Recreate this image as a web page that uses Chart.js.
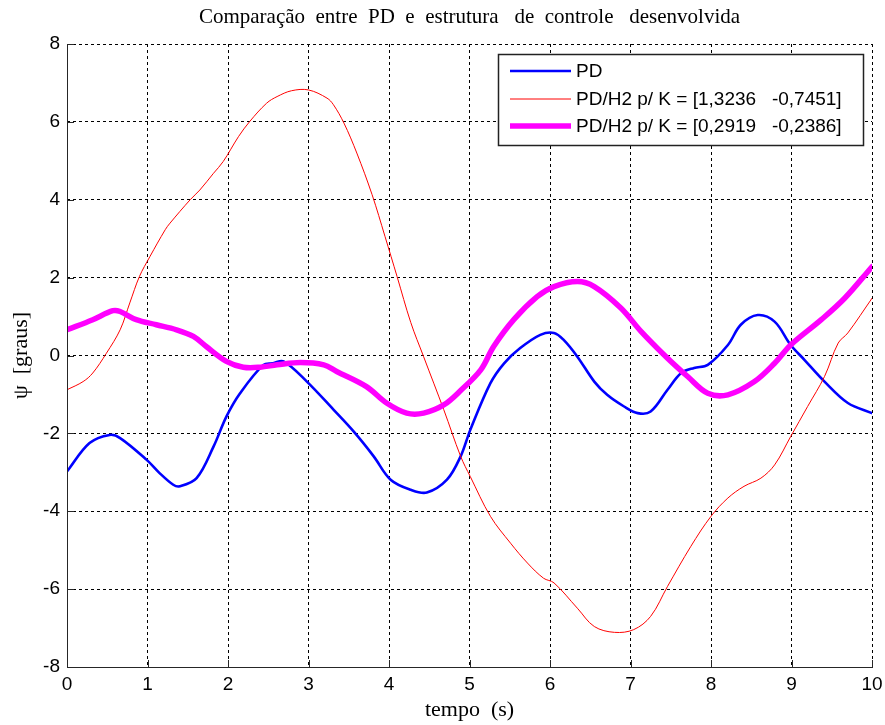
<!DOCTYPE html>
<html>
<head>
<meta charset="utf-8">
<script src="https://cdn.jsdelivr.net/npm/chart.js@4/dist/chart.umd.min.js"></script>
<style>
  html, body { margin: 0; padding: 0; background: #ffffff; }
  #wrap { width: 885px; height: 725px; }
</style>
</head>
<body>
<div id="wrap"><canvas id="c" width="885" height="725"></canvas></div>
<script>
// Heading response psi (graus) over time for the three controllers
const titleText = 'Comparação  entre  PD  e  estrutura   de  controle   desenvolvida';
const xLabel = 'tempo  (s)';
const yLabel = 'ψ  [graus]';
const seriesNames = ['PD', 'PD/H2 p/ K = [1,3236   -0,7451]', 'PD/H2 p/ K = [0,2919   -0,2386]'];

const tPD = [0, 0.28, 0.53, 0.66, 0.99, 1.15, 1.32, 1.40, 1.61, 1.82, 1.98, 2.15, 2.44, 2.56, 2.69, 2.98, 3.31, 3.56, 3.81, 4.02, 4.27, 4.47, 4.72, 4.89, 5.01, 5.26, 5.43, 5.63, 5.88, 6.05, 6.17, 6.34, 6.55, 6.71, 6.92, 7.09, 7.25, 7.46, 7.63, 7.79, 7.96, 8.21, 8.37, 8.58, 8.79, 8.99, 9.16, 9.41, 9.70, 10];
const psiPD = [-2.98, -2.25, -2.04, -2.12, -2.68, -3.02, -3.32, -3.36, -3.15, -2.34, -1.57, -0.97, -0.24, -0.20, -0.15, -0.67, -1.39, -1.95, -2.59, -3.19, -3.45, -3.52, -3.19, -2.59, -1.91, -0.71, -0.20, 0.19, 0.53, 0.58, 0.40, -0.03, -0.67, -1.01, -1.31, -1.48, -1.44, -0.88, -0.45, -0.32, -0.24, 0.27, 0.79, 1.04, 0.87, 0.27, -0.11, -0.67, -1.22, -1.48];

const tK1 = [0, 0.20, 0.32, 0.49, 0.66, 0.78, 0.90, 1.03, 1.22, 1.28, 1.53, 1.65, 1.82, 1.94, 2.13, 2.27, 2.48, 2.61, 2.79, 3.00, 3.23, 3.31, 3.44, 3.60, 3.79, 3.95, 4.10, 4.27, 4.43, 4.68, 4.89, 5.01, 5.26, 5.51, 5.72, 5.92, 6.05, 6.34, 6.55, 6.80, 7.04, 7.25, 7.46, 7.75, 8.00, 8.21, 8.41, 8.62, 8.79, 8.99, 9.20, 9.41, 9.58, 9.70, 10];
const psiK1 = [-0.88, -0.67, -0.45, 0.06, 0.66, 1.35, 2.03, 2.54, 3.23, 3.40, 4.00, 4.25, 4.68, 4.98, 5.62, 6.01, 6.48, 6.65, 6.80, 6.82, 6.61, 6.44, 5.97, 5.20, 4.13, 3.06, 2.03, 0.85, -0.03, -1.39, -2.59, -3.11, -4.13, -4.82, -5.33, -5.72, -5.84, -6.49, -6.96, -7.11, -7.04, -6.70, -5.93, -4.90, -4.13, -3.66, -3.36, -3.15, -2.81, -2.08, -1.31, -0.54, 0.32, 0.58, 1.47];

const tK2 = [0, 0.32, 0.57, 0.66, 0.86, 1.11, 1.36, 1.57, 1.73, 1.98, 2.19, 2.40, 2.61, 2.90, 3.19, 3.35, 3.72, 3.97, 4.22, 4.43, 4.68, 4.89, 5.14, 5.30, 5.55, 5.84, 6.05, 6.34, 6.55, 6.88, 7.13, 7.46, 7.71, 7.96, 8.21, 8.54, 8.79, 8.99, 9.37, 9.66, 10];
const psiK2 = [0.66, 0.92, 1.15, 1.13, 0.92, 0.79, 0.66, 0.49, 0.23, -0.15, -0.30, -0.30, -0.24, -0.18, -0.24, -0.41, -0.80, -1.22, -1.48, -1.48, -1.27, -0.90, -0.37, 0.23, 0.92, 1.51, 1.77, 1.90, 1.77, 1.22, 0.62, -0.07, -0.54, -0.97, -1.01, -0.67, -0.20, 0.27, 0.92, 1.47, 2.28];

const xTicks = [0, 1, 2, 3, 4, 5, 6, 7, 8, 9, 10];
const yTicks = [-8, -6, -4, -2, 0, 2, 4, 6, 8];

const pts = (t, v) => t.map((x, i) => ({ x: x, y: v[i] }));

const tickFont = { family: "'Liberation Sans', Arial, sans-serif", size: 19 };
const serif = "'Liberation Serif', 'Times New Roman', serif";

// solid axis lines on left/bottom with inward tick marks, plus the boxed legend
const axesAndLegend = {
  id: 'axesAndLegend',
  afterDatasetsDraw(chart) {
    const { ctx, chartArea: a, scales } = chart;
    ctx.save();
    ctx.strokeStyle = '#262626';
    ctx.lineWidth = 1;
    ctx.setLineDash([]);
    ctx.beginPath();
    ctx.moveTo(Math.round(a.left) + 0.5, Math.round(a.top));
    ctx.lineTo(Math.round(a.left) + 0.5, Math.round(a.bottom) + 0.5);
    ctx.lineTo(Math.round(a.right) + 1, Math.round(a.bottom) + 0.5);
    ctx.stroke();
    const tl = 7;
    scales.x.ticks.forEach(tk => {
      const px = Math.round(scales.x.getPixelForValue(tk.value)) + 0.5;
      ctx.beginPath();
      ctx.moveTo(px, Math.round(a.bottom));
      ctx.lineTo(px, Math.round(a.bottom) - tl);
      ctx.stroke();
    });
    scales.y.ticks.forEach(tk => {
      const py = Math.round(scales.y.getPixelForValue(tk.value)) + 0.5;
      ctx.beginPath();
      ctx.moveTo(Math.round(a.left), py);
      ctx.lineTo(Math.round(a.left) + tl, py);
      ctx.stroke();
    });

    // legend box
    const bx = 498.5, by = 54.5, bw = 365, bh = 91;
    ctx.fillStyle = '#ffffff';
    ctx.fillRect(bx, by, bw, bh);
    ctx.strokeStyle = '#222222';
    ctx.lineWidth = 1.5;
    ctx.strokeRect(bx, by, bw, bh);
    const rows = [71, 99, 126];
    chart.data.datasets.forEach((ds, i) => {
      const y = rows[i];
      ctx.strokeStyle = ds.borderColor;
      ctx.lineWidth = ds.borderWidth;
      ctx.lineCap = 'butt';
      ctx.beginPath();
      ctx.moveTo(510, y);
      ctx.lineTo(571, y);
      ctx.stroke();
      ctx.fillStyle = '#000000';
      ctx.font = "19px 'Liberation Sans', Arial, sans-serif";
      ctx.textBaseline = 'middle';
      ctx.textAlign = 'left';
      ctx.fillText(ds.label, 576, y + 1);
    });
    ctx.restore();
  }
};

new Chart(document.getElementById('c'), {
  type: 'line',
  data: {
    datasets: [
      { label: seriesNames[0], data: pts(tPD, psiPD), borderColor: '#0000ff', borderWidth: 2.6, order: 3 },
      { label: seriesNames[1], data: pts(tK1, psiK1), borderColor: '#ff0000', borderWidth: 1, order: 2 },
      { label: seriesNames[2], data: pts(tK2, psiK2), borderColor: '#ff00ff', borderWidth: 5.5, order: 1 }
    ]
  },
  options: {
    responsive: false,
    animation: false,
    layout: { padding: { left: 0, right: 13, top: 0, bottom: 0 } },
    elements: {
      point: { radius: 0 },
      line: { tension: 0.35, fill: false, borderCapStyle: 'round', borderJoinStyle: 'round' }
    },
    plugins: {
      legend: { display: false },
      tooltip: { enabled: false },
      title: {
        display: true,
        fullSize: false,
        text: titleText,
        color: '#000000',
        font: { family: serif, size: 21, weight: 'normal', lineHeight: 1.2 },
        padding: { top: 5, bottom: 13.8 }
      }
    },
    scales: {
      x: {
        type: 'linear',
        min: 0, max: 10,
        afterBuildTicks: s => { s.ticks = xTicks.map(v => ({ value: v })); },
        afterFit: s => { s.height = 58; s.paddingLeft = 0; s.paddingRight = 0; },
        ticks: { color: '#000000', font: tickFont, padding: 6, maxRotation: 0, autoSkip: false },
        grid: { color: '#000000', lineWidth: 1, drawTicks: false },
        border: { display: false, dash: [3, 3] },
        title: { display: true, text: xLabel, color: '#000000', font: { family: serif, size: 22 }, padding: { top: 0, bottom: 2 } }
      },
      y: {
        type: 'linear',
        min: -8, max: 8,
        afterBuildTicks: s => { s.ticks = yTicks.map(v => ({ value: v })); },
        afterFit: s => { s.width = 67; s.paddingTop = 0; s.paddingBottom = 0; },
        ticks: { color: '#000000', font: tickFont, padding: 7, autoSkip: false },
        grid: { color: '#000000', lineWidth: 1, drawTicks: false },
        border: { display: false, dash: [3, 3] },
        title: { display: true, text: yLabel, color: '#000000', font: { family: serif, size: 22 }, padding: { top: 8, bottom: 0 } }
      }
    }
  },
  plugins: [axesAndLegend]
});
</script>
</body>
</html>
